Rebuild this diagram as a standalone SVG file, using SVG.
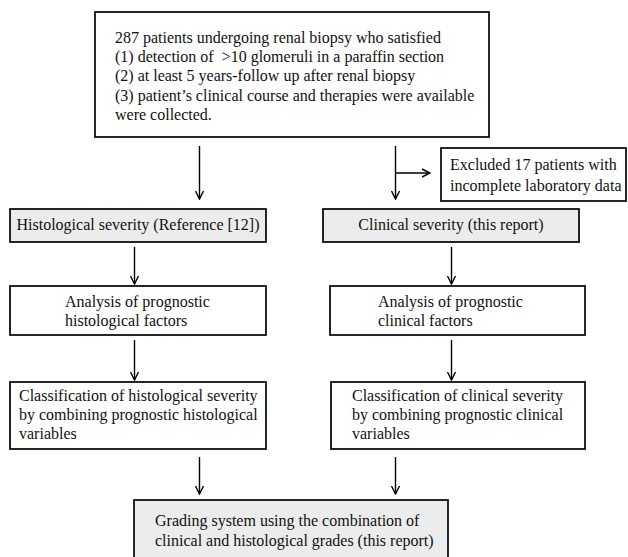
<svg xmlns="http://www.w3.org/2000/svg" width="628" height="557" viewBox="0 0 628 557">
<style>
.box{fill:#ffffff;stroke:#000000;stroke-width:1.7}
.gbox{fill:#ececec;stroke:#000000;stroke-width:1.7}
text{font-family:"Liberation Serif","Times New Roman",serif;font-size:16px;fill:#111111}
.c{text-anchor:middle}
.conn{fill:none;stroke:#000000;stroke-width:1.4}
</style>
<defs>
<marker id="arr" viewBox="0 0 10 10" refX="9" refY="5" markerWidth="10" markerHeight="10" markerUnits="userSpaceOnUse" orient="auto">
<path d="M1,1 L9,5 L1,9" fill="none" stroke="#000000" stroke-width="1.4"/>
</marker>
</defs>
<rect width="628" height="557" fill="#ffffff"/>
<g id="connectors">
<path class="conn" d="M199.5,146 V199" marker-end="url(#arr)"/>
<path class="conn" d="M395.5,146 V199" marker-end="url(#arr)"/>
<path class="conn" d="M395.5,173 H430" marker-end="url(#arr)"/>
<path class="conn" d="M134.5,247 V284" marker-end="url(#arr)"/>
<path class="conn" d="M451.5,247 V284" marker-end="url(#arr)"/>
<path class="conn" d="M134.5,340 V380" marker-end="url(#arr)"/>
<path class="conn" d="M451.5,340 V380" marker-end="url(#arr)"/>
<path class="conn" d="M199.5,457 V494" marker-end="url(#arr)"/>
<path class="conn" d="M395.5,457 V494" marker-end="url(#arr)"/>
</g>
<g id="n-start">
<rect class="box" x="95" y="12" width="394" height="125"/>
<text x="115" y="43">287 patients undergoing renal biopsy who satisfied</text>
<text x="115" y="62">(1) detection of&#160; &gt;10 glomeruli in a paraffin section</text>
<text x="115" y="81">(2) at least 5 years-follow up after renal biopsy</text>
<text x="115" y="101">(3) patient’s clinical course and therapies were available</text>
<text x="115" y="120">were collected.</text>
</g>
<g id="n-excluded">
<rect class="box" x="441" y="148" width="185" height="53"/>
<text x="450" y="170">Excluded 17 patients with</text>
<text x="450" y="191">incomplete laboratory data</text>
</g>
<g id="n-hist">
<rect class="gbox" x="10" y="209" width="256" height="33"/>
<text class="c" x="138" y="230">Histological severity (Reference [12])</text>
</g>
<g id="n-clin">
<rect class="gbox" x="323" y="209" width="256" height="33"/>
<text class="c" x="451" y="230">Clinical severity (this report)</text>
</g>
<g id="n-anal-hist">
<rect class="box" x="10" y="286" width="256" height="49"/>
<text x="65" y="307">Analysis of prognostic</text>
<text x="65" y="326">histological factors</text>
</g>
<g id="n-anal-clin">
<rect class="box" x="330" y="286" width="255" height="49"/>
<text x="378" y="307">Analysis of prognostic</text>
<text x="378" y="326">clinical factors</text>
</g>
<g id="n-class-hist">
<rect class="box" x="10" y="382" width="256" height="67"/>
<text x="19" y="401">Classification of histological severity</text>
<text x="19" y="420">by combining prognostic histological</text>
<text x="19" y="439">variables</text>
</g>
<g id="n-class-clin">
<rect class="box" x="331" y="382" width="254" height="67"/>
<text x="352" y="401">Classification of clinical severity</text>
<text x="352" y="420">by combining prognostic clinical</text>
<text x="352" y="439">variables</text>
</g>
<g id="n-grading">
<rect class="gbox" x="134" y="500" width="314" height="70"/>
<text x="155" y="526">Grading system using the combination of</text>
<text x="155" y="546">clinical and histological grades (this report)</text>
</g>
</svg>
